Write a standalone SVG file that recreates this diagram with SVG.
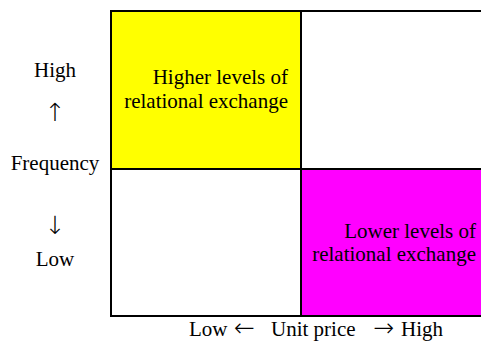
<svg xmlns="http://www.w3.org/2000/svg" width="481" height="341" viewBox="0 0 481 341">
<style>
text{font-family:"Liberation Serif","Times New Roman",serif;font-size:21px;fill:#000}
.a{font-family:"DejaVu Sans",sans-serif;font-size:25px;font-weight:200;fill:#000}
.r{text-anchor:end}
.m{text-anchor:middle}
.cell{stroke:#000;stroke-width:2}
</style>
<rect width="481" height="341" fill="#fff"/>
<g id="cell-tl"><rect class="cell" x="111" y="11" width="190" height="158" fill="#ffff00"/>
<text class="r" x="288" y="84">Higher levels of</text>
<text class="r" x="288" y="108">relational exchange</text></g>
<g id="cell-tr"><rect class="cell" x="301" y="11" width="190" height="158" fill="#fff"/></g>
<g id="cell-bl"><rect class="cell" x="111" y="169" width="190" height="147" fill="#fff"/></g>
<g id="cell-br"><rect class="cell" x="301" y="169" width="190" height="147" fill="#ff00ff"/>
<text class="r" x="476" y="238">Lower levels of</text>
<text class="r" x="476" y="261">relational exchange</text></g>
<g id="y-axis">
<text class="m" x="55" y="77">High</text>
<text class="m a" x="55" y="121">↑</text>
<text class="m" x="55" y="170">Frequency</text>
<text class="m a" x="55" y="234">↓</text>
<text class="m" x="55" y="266">Low</text>
</g>
<g id="x-axis">
<text x="189" y="336">Low</text>
<text class="a" x="234" y="336">←</text>
<text x="271" y="336">Unit price</text>
<text class="a" x="373" y="336">→</text>
<text x="401" y="336">High</text>
</g>
</svg>
